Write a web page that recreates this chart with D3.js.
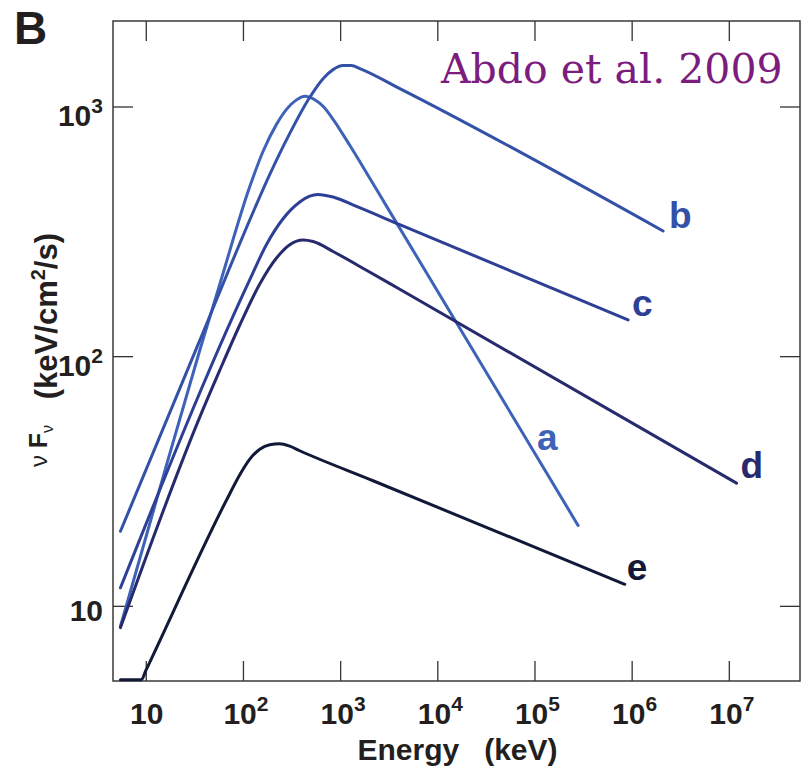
<!DOCTYPE html>
<html>
<head>
<meta charset="utf-8">
<script src="https://cdn.jsdelivr.net/npm/d3@7"></script>
<style>
  body { margin: 0; background: #fff; }
</style>
</head>
<body>
<div id="chart"></div>
<script>
// spectra: energy in keV, nuFnu in keV/cm2/s
const energyA = [5.49, 13.93, 35.95, 57.8, 117.6, 161.2, 221.4, 280.5, 355.5, 432.7, 548.7, 667.6, 846.4, 1257, 1867, 3000, 2.81e5];
const fluxA   = [8.28, 29.5, 105.6, 194.3, 478, 662, 848, 974, 1063, 1100, 1065, 1002, 889, 699, 543, 399, 21.0];

const energyB = [5.49, 35.95, 132.4, 188.9, 303.4, 487.3, 667.6, 846.4, 1073, 1309, 1594, 4111, 2.107e6];
const fluxB   = [19.9, 115.6, 391.3, 534.6, 780.7, 1089, 1293, 1405, 1458, 1458, 1419, 1180, 317.2];

const energyC = [5.49, 117.6, 174.7, 258.8, 384.4, 487.3, 589.1, 846.4, 1474, 4111, 9.19e5];
const fluxC   = [11.81, 202.5, 280.1, 355.1, 414.4, 437.8, 444.4, 433.8, 397.8, 336.3, 139.8];

const energyD = [5.49, 35.95, 57.8, 92.8, 149, 221.4, 303.4, 415.6, 526.9, 846.4, 1867, 4111, 1.2e7];
const fluxD   = [8.18, 57.0, 87.9, 133.3, 194.6, 247.2, 279.6, 292, 288, 262.6, 220.9, 185.4, 31.0];

const energyE = [5.49, 9.03, 10, 73.2, 92.8, 117.6, 149, 188.9, 239.3, 303.4, 384.4, 2184, 8.5e5];
const fluxE   = [5.06, 5.06, 5.5, 28.13, 33.5, 38.7, 42.4, 44.2, 44.6, 43.6, 41.8, 31.7, 12.2];

const xTickValues = [10, 1e2, 1e3, 1e4, 1e5, 1e6, 1e7];
const xTickExps   = ["", "2", "3", "4", "5", "6", "7"];
const yTickValues = [10, 1e2, 1e3];
const yTickExps   = ["", "2", "3"];

const xDomain = [4.6, 5.4e7];
const yDomain = [5, 2200];

const series = [
  {name: "a", E: energyA, F: fluxA, color: "#3d62b8", dx: -41, dy: -75},
  {name: "b", E: energyB, F: fluxB, color: "#3451a8", dx: 6, dy: -3},
  {name: "c", E: energyC, F: fluxC, color: "#2e3f96", dx: 4, dy: -4},
  {name: "d", E: energyD, F: fluxD, color: "#272a6c", dx: 4, dy: -5},
  {name: "e", E: energyE, F: fluxE, color: "#121838", dx: 2, dy: -4}
];

const sans = "'Liberation Sans', Arial, Helvetica, sans-serif";
const ink = "#231f20";

const margin = {top: 21, right: 1, bottom: 90, left: 113},
    width = 801 - margin.left - margin.right,
    height = 771 - margin.top - margin.bottom;

const svg = d3.select("#chart")
  .append("svg")
    .attr("width", 801)
    .attr("height", 771)
    .style("font-family", sans);

const g = svg.append("g")
    .attr("transform", `translate(${margin.left}, ${margin.top})`);

const x = d3.scaleLog().domain(xDomain).range([0, width]);
const y = d3.scaleLog().domain(yDomain).range([height, 0]).clamp(true);

// inward ticks on all four sides
const tickLen = 20;
const axisStyle = sel => {
  sel.select(".domain").remove();
  sel.selectAll(".tick line").attr("stroke", "#333").attr("stroke-width", 1.3);
  sel.selectAll(".tick text").remove();
};
g.append("g").attr("transform", `translate(0, ${height})`)
  .call(d3.axisBottom(x).tickValues(xTickValues).tickSizeInner(-tickLen).tickSizeOuter(0))
  .call(axisStyle);
g.append("g")
  .call(d3.axisTop(x).tickValues(xTickValues).tickSizeInner(-tickLen).tickSizeOuter(0))
  .call(axisStyle);
g.append("g")
  .call(d3.axisLeft(y).tickValues(yTickValues).tickSizeInner(-tickLen).tickSizeOuter(0))
  .call(axisStyle);
g.append("g").attr("transform", `translate(${width}, 0)`)
  .call(d3.axisRight(y).tickValues(yTickValues).tickSizeInner(-tickLen).tickSizeOuter(0))
  .call(axisStyle);

g.append("rect")
  .attr("width", width).attr("height", height)
  .attr("fill", "none").attr("stroke", "#3a3a3a").attr("stroke-width", 1.5);

// tick labels "10^n"
const powLabel = (sel, exp) => {
  sel.append("tspan").text("10");
  if (exp) sel.append("tspan").attr("dy", -13).attr("font-size", 21).text(exp);
};
xTickValues.forEach((v, i) => {
  g.append("text")
    .attr("x", x(v) + (xTickExps[i] ? 3 : 1))
    .attr("y", height + 43)
    .attr("text-anchor", "middle")
    .attr("font-size", 30).attr("font-weight", "bold").attr("fill", ink)
    .call(powLabel, xTickExps[i]);
});
yTickValues.forEach((v, i) => {
  g.append("text")
    .attr("x", -10)
    .attr("y", y(v) + (yTickExps[i] ? 20 : 15))
    .attr("text-anchor", "end")
    .attr("font-size", 30).attr("font-weight", "bold").attr("fill", ink)
    .call(powLabel, yTickExps[i]);
});

// axis titles
g.append("text")
  .attr("x", width / 2 + 1).attr("y", height + 79)
  .attr("text-anchor", "middle")
  .attr("font-size", 30).attr("font-weight", "bold").attr("fill", ink)
  .attr("xml:space", "preserve")
  .text("Energy   (keV)");

const yTitle = g.append("text")
  .attr("transform", `translate(${57 - margin.left}, ${height / 2 - 1}) rotate(-90)`)
  .attr("text-anchor", "middle")
  .attr("font-size", 31).attr("font-weight", "bold").attr("fill", ink)
  .attr("xml:space", "preserve");
yTitle.append("tspan").attr("font-weight", "normal").attr("font-size", 24).attr("dy", -10).text("ν ");
yTitle.append("tspan").attr("font-size", 25).text("F");
yTitle.append("tspan").attr("dy", 6).attr("font-size", 16).attr("font-weight", "normal").text("ν");
yTitle.append("tspan").attr("dy", 4).text("   (keV/cm");
yTitle.append("tspan").attr("dy", -12).attr("font-size", 20).text("2");
yTitle.append("tspan").attr("dy", 12).text("/s)");

// curves
const line = d3.line()
  .curve(d3.curveMonotoneX)
  .x(d => x(d[0]))
  .y(d => y(d[1]));

series.forEach(s => {
  const pts = s.E.map((e, i) => [e, s.F[i]]);
  g.append("path")
    .datum(pts)
    .attr("fill", "none")
    .attr("stroke", s.color)
    .attr("stroke-width", 3)
    .attr("stroke-linecap", "round")
    .attr("stroke-linejoin", "round")
    .attr("d", line);
  const last = pts[pts.length - 1];
  g.append("text")
    .attr("x", x(last[0]) + s.dx)
    .attr("y", y(last[1]) + s.dy)
    .attr("font-size", 37).attr("font-weight", "bold")
    .attr("fill", s.color)
    .text(s.name);
});

// panel letter and citation
svg.append("text")
  .attr("x", 14).attr("y", 44)
  .attr("font-size", 46).attr("font-weight", "bold").attr("fill", ink)
  .text("B");

svg.append("text")
  .attr("x", 441).attr("y", 83)
  .style("font-family", "'DejaVu Serif', serif")
  .attr("font-size", 41).attr("fill", "#7b1c7e")
  .text("Abdo et al. 2009");
</script>
</body>
</html>
